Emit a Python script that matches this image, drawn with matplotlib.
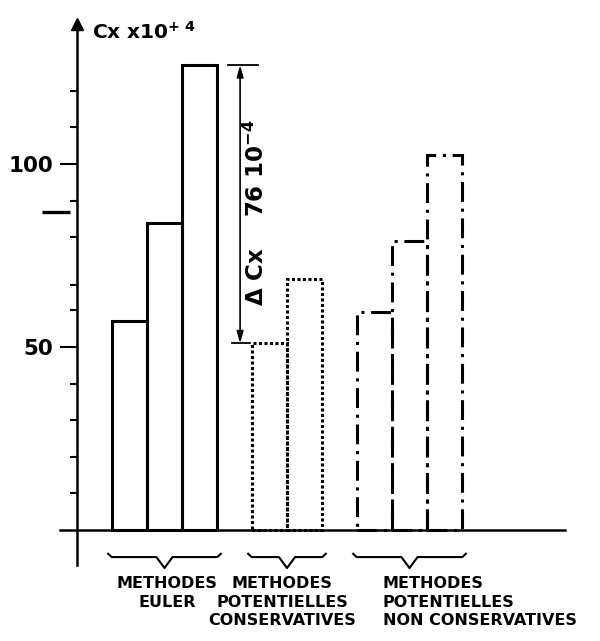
import matplotlib
matplotlib.use('Agg')
import matplotlib.pyplot as plt

plt.rcParams['font.family'] = ['DejaVu Sans']
plt.rcParams['font.weight'] = 'bold'
plt.rcParams['mathtext.fontset'] = 'dejavusans'

# ---- data ----
group_labels = ['METHODES\nEULER',
                'METHODES\nPOTENTIELLES\nCONSERVATIVES',
                'METHODES\nPOTENTIELLES\nNON CONSERVATIVES']
euler = [57, 84, 127]
pot_cons = [51, 68.5]
pot_noncons = [59.5, 79, 102.5]
y_major = [50, 100]
y_major_labels = ['50', '100']
y_minor = [10, 20, 30, 40, 60, 67, 80, 90, 110, 120]
marker_value = 87
y_title = 'Cx x10$^{\\mathbf{+\\ 4}}$'

# ---- layout ----
group_starts = [0, 4, 7]
styles = ['-', (0, (1.0, 0.8)), (0, (6.5, 2.2, 1.0, 2.2))]
series = [euler, pot_cons, pot_noncons]

fig = plt.figure(figsize=(6.0, 6.41), dpi=100)
ax = fig.add_axes([0, 0, 1, 1])
ax.set_xlim(-3.2, 13.943)
ax.set_ylim(-30.33, 144.8)
ax.patch.set_visible(False)

for s in ['top', 'right']:
    ax.spines[s].set_visible(False)
ax.spines['left'].set_position(('data', -1))
ax.spines['bottom'].set_position(('data', 0))
ax.spines['left'].set_bounds(-9.6, 138.5)
ax.spines['bottom'].set_bounds(-1.49, 12.94)
ax.spines['left'].set_linewidth(1.8)
ax.spines['bottom'].set_linewidth(1.8)

ax.set_xticks([])
ax.set_yticks(y_major)
ax.set_yticklabels(y_major_labels)
ax.set_yticks(y_minor, minor=True)
ax.tick_params(axis='y', which='major', direction='out', length=12, width=1.5,
               labelsize=15.5, pad=5)
ax.tick_params(axis='y', which='minor', direction='out', length=5, width=1.5)

# axis arrow head
ax.plot([-1], [138.2], marker='^', ms=9, color='k', clip_on=False)
ax.text(-0.57, 136, y_title, fontsize=14.5, ha='left', va='center')

# isolated mark on axis
ax.plot([-2.0, -1.2], [marker_value, marker_value], lw=2.4, color='k',
        solid_capstyle='butt', clip_on=False)

# bars
for vals, start, ls in zip(series, group_starts, styles):
    pos = [start + i for i in range(len(vals))]
    ax.bar(pos, vals, width=1, align='edge', fill=False, edgecolor='k',
           linewidth=2.2, linestyle=ls, clip_on=False)

# delta annotation
top = max(euler)
bot = min(pot_cons)
xa = 3.66
ax.annotate('', xy=(xa, top), xytext=(xa, bot),
            arrowprops=dict(arrowstyle='<|-|>,head_length=0.7,head_width=0.2',
                            lw=1.2, color='k', shrinkA=0, shrinkB=0))
ax.plot([3.31, 4.17], [top, top], lw=1.3, color='k')
ax.plot([3.43, 3.94], [bot, bot], lw=1.3, color='k')
delta_txt = 'Δ Cx    %d 10$^{\\mathbf{-4}}$' % round(top - bot)
ax.text(4.12, 86.6, delta_txt, rotation=90, fontsize=16.5, ha='center', va='center')

# braces and group labels
label_x = [1.57, 4.86, 7.74]
label_ha = ['center', 'center', 'left']
for vals, start, lx, ha, lab in zip(series, group_starts, label_x, label_ha, group_labels):
    x0 = start - 0.11
    x1 = start + len(vals) + 0.11
    c = start + len(vals) / 2
    bx = [x0, x0 + 0.1, c - 0.23, c, c + 0.23, x1 - 0.1, x1]
    by = [-6.5, -7.4, -7.4, -10.4, -7.4, -7.4, -6.5]
    ax.plot(bx, by, lw=1.5, color='k', clip_on=False)
    ax.text(lx, -12.6, lab, fontsize=11.5, ha=ha, va='top', multialignment=ha,
            linespacing=1.3)

fig.savefig('out.png', dpi=100)
